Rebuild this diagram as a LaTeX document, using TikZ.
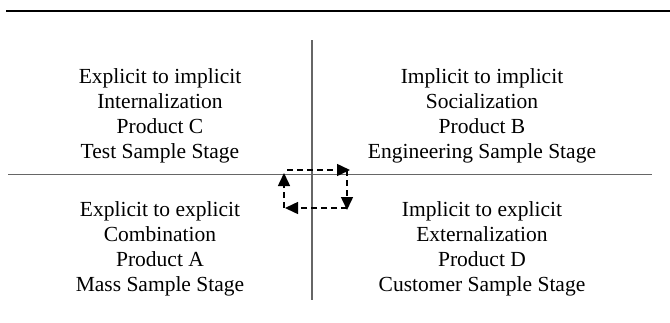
\documentclass[tikz,border=0pt]{standalone}
\usepackage{fontspec}
\setmainfont{Liberation Serif}
\usetikzlibrary{arrows.meta}
\begin{document}
\begin{tikzpicture}[x=1pt,y=-1pt,
  quad/.style={align=center,font=\fontsize{21.5}{25}\selectfont,inner sep=0pt},
  axis/.style={draw=black!60,line width=1.4pt},
  loop/.style={line width=1.5pt,dash pattern=on 6pt off 4pt,-{Triangle[length=13pt,width=12pt]}}]
\useasboundingbox (0,0) rectangle (670,322);
\draw[line width=2.2pt] (6,11) -- (670,11);
\coordinate (vt) at (312,40);
\coordinate (vb) at (312,300);
\coordinate (hl) at (8,174.5);
\coordinate (hr) at (652,174.5);
\draw[axis] (vt) -- (vb);
\draw[axis] (hl) -- (hr);
\node[quad] (c) at (160,115.5) {Explicit to implicit\\Internalization\\Product C\\Test Sample Stage};
\node[quad] (b) at (482,115.5) {Implicit to implicit\\Socialization\\Product B\\Engineering Sample Stage};
\node[quad] (a) at (160,249) {Explicit to explicit\\Combination\\Product A\\Mass Sample Stage};
\node[quad] (d) at (482,249) {Implicit to explicit\\Externalization\\Product D\\Customer Sample Stage};
\coordinate (tl) at (284,170);
\coordinate (tr) at (347,170);
\coordinate (br) at (347,208);
\coordinate (bl) at (284,208);
\draw[loop] ([xshift=3pt]tl) -- ([xshift=3pt]tr);
\draw[loop] (tr) -- ([yshift=-2pt]br);
\draw[loop] (br) -- ([xshift=1pt]bl);
\draw[loop] (bl) -- ([yshift=-3pt]tl);
\end{tikzpicture}
\end{document}
